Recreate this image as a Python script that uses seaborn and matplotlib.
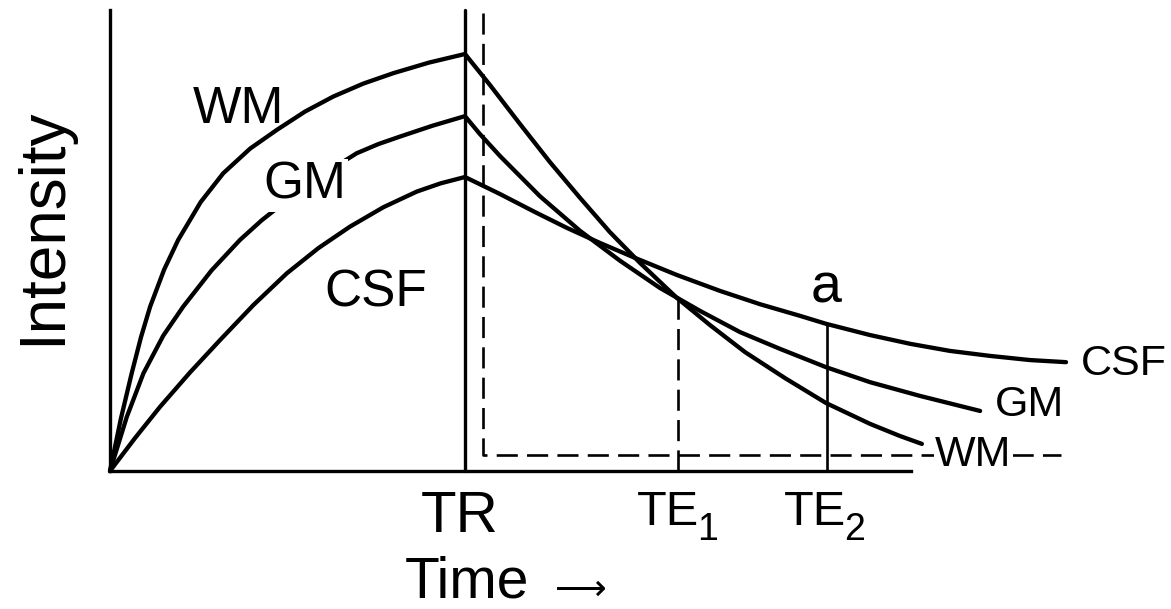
import matplotlib
matplotlib.use("Agg")
import matplotlib.pyplot as plt
import seaborn as sns
import pandas as pd

# ---------------- data (time: TR = 100 a.u., intensity: WM max = 100 a.u.) ----
TR = 100
TE1 = 160
TE2 = 202
TE1_TOP = 41.5          # signal where WM/GM meet at TE1
TE2_TOP = 35.3          # CSF signal at TE2
NOISE_START_T = 105
NOISE_TOP = 109.8
NOISE_LEVEL = 3.8
NOISE_END_T = 268

# recovery (T1) part, 0 .. TR
wm_rise_t = [0, 3.05, 6.1, 8.7, 11.3, 15.25, 19.2, 25.55, 31.9, 39.45, 47.0, 54.95, 62.9, 71.35, 79.8, 89.9, 100]
wm_rise_i = [0, 12.5, 23.4, 32.0, 39.4, 48.3, 55.4, 64.5, 71.4, 77.3, 81.8, 86.2, 89.8, 92.9, 95.4, 97.95, 100.0]
gm_rise_t = [0, 4.7, 9.4, 15.0, 20.6, 28.6, 36.6, 42.7, 48.8, 59.15, 69.5, 75.6, 81.7, 90.85, 100]
gm_rise_i = [0, 12.9, 23.4, 32.45, 39.4, 48.1, 55.4, 60.1, 64.2, 70.7, 76.2, 78.4, 80.2, 82.8, 85.1]
csf_rise_t = [0, 7.05, 14.1, 22.55, 31.0, 40.4, 49.8, 58.7, 67.6, 77.0, 86.4, 93.2, 100]
csf_rise_i = [0, 7.9, 15.4, 23.65, 31.4, 39.8, 47.4, 53.45, 58.6, 63.25, 67.0, 69.0, 70.5]

# decay (T2) part, after TR
wm_decay_t = [107.0, 115.5, 123.9, 132.4, 140.8, 149.3, 159.7, 169.0, 178.9, 190.1, 201.7, 214.1, 222.5, 228.7]
wm_decay_i = [92.6, 83.2, 74.1, 65.5, 57.3, 49.9, 41.5, 35.0, 28.5, 22.3, 16.3, 11.3, 8.4, 6.5]
gm_decay_t = [104.2, 109.9, 121.1, 132.4, 143.7, 154.9, 166.2, 177.5, 188.7, 201.7, 214.1, 228.2, 245.1]
gm_decay_i = [80.8, 75.5, 65.9, 57.6, 50.4, 43.9, 38.4, 33.3, 29.3, 24.9, 21.3, 18.0, 14.4]
csf_decay_t = [109.9, 119.7, 128.7, 138.0, 147.9, 159.7, 171.8, 183.1, 194.4, 201.7, 214.1, 225.4, 236.6, 247.9, 259.2, 269.3]
csf_decay_i = [66.4, 62.1, 58.3, 54.7, 51.1, 47.0, 43.2, 40.0, 37.2, 35.3, 32.6, 30.5, 28.8, 27.6, 26.6, 26.1]

tissues = ["WM", "GM", "CSF"]

# ---------------- figure ----------------
sns.set_theme(style="white")
plt.rcParams['font.family'] = ['Liberation Sans', 'DejaVu Sans']

W, H = 1171, 609
fig = plt.figure(figsize=(W / 100, H / 100), dpi=100)
fig.patch.set_facecolor("white")
ax = fig.add_axes([110 / W, (H - 471) / H, 801 / W, 461 / H])
ax.set_facecolor("white")

frames = []
for name, rt, ri, dt, di in [
    ("WM", wm_rise_t, wm_rise_i, wm_decay_t, wm_decay_i),
    ("GM", gm_rise_t, gm_rise_i, gm_decay_t, gm_decay_i),
    ("CSF", csf_rise_t, csf_rise_i, csf_decay_t, csf_decay_i),
]:
    frames.append(pd.DataFrame({"t": rt + dt, "I": ri + di, "tissue": name}))
df = pd.concat(frames, ignore_index=True)

sns.lineplot(data=df, x="t", y="I", units="tissue", estimator=None, sort=False,
             color="black", linewidth=3.1, ax=ax, legend=False)
for ln in ax.lines:
    ln.set_clip_on(False)
    ln.set_solid_joinstyle("round")

# TR line
ax.axvline(TR, ymin=0, ymax=1, color="black", lw=2.4, clip_on=False)
# dashed noise / baseline L
nl, = ax.plot([NOISE_START_T, NOISE_START_T, NOISE_END_T],
              [NOISE_TOP, NOISE_LEVEL, NOISE_LEVEL],
              color="black", lw=1.9, clip_on=False)
nl.set_dashes([8, 3.5])
# TE1 dashed, TE2 solid
te1, = ax.plot([TE1, TE1], [0, TE1_TOP], color="black", lw=1.9)
te1.set_dashes([8, 3.5])
ax.plot([TE2, TE2], [0, TE2_TOP], color="black", lw=1.9)

ax.set_xlim(0, 801 / 3.55)
ax.set_ylim(0, 461 / 4.17)
ax.set_xticks([])
ax.set_yticks([])
ax.set_xlabel("")
ax.set_ylabel("")
for s in ["top", "right"]:
    ax.spines[s].set_visible(False)
for s in ["left", "bottom"]:
    ax.spines[s].set_color("black")
    ax.spines[s].set_linewidth(2.4)


def ftext(px, py, s, size, ha="left", va="baseline", **kw):
    fig.text(px / W, 1 - py / H, s, fontsize=size, ha=ha, va=va, color="black", **kw)


# curve labels (left)
ftext(238, 123, "WM", 37, ha="center")
ftext(305, 199, "GM", 37, ha="center",
      bbox=dict(facecolor="white", edgecolor="none", pad=1.5), zorder=5)
ftext(376, 306, "CSF", 37, ha="center")
# curve labels (right)
ftext(1081, 375, "CSF", 31)
ftext(995, 416, "GM", 31)
ftext(935, 466, "WM", 31,
      bbox=dict(facecolor="white", edgecolor="none", pad=1.0), zorder=5)
# point label
ftext(826, 303, "a", 40, ha="center")
# time labels
ftext(460, 532, "TR", 42, ha="center")
ftext(668, 525, "TE", 35, ha="center")
ftext(708, 540, "1", 27, ha="center")
ftext(815, 525, "TE", 35, ha="center")
ftext(855, 540, "2", 27, ha="center")
# axis titles
ftext(405, 597, "Time", 41)
ftext(581, 590, "\u27f6", 26, ha="center", va="center", family="DejaVu Sans")
fig.text(60 / W, 1 - 226 / H, "Intensity", fontsize=46, rotation=90,
         rotation_mode="anchor", ha="center", va="baseline", color="black")

fig.savefig("out.png", dpi=100, facecolor="white")
